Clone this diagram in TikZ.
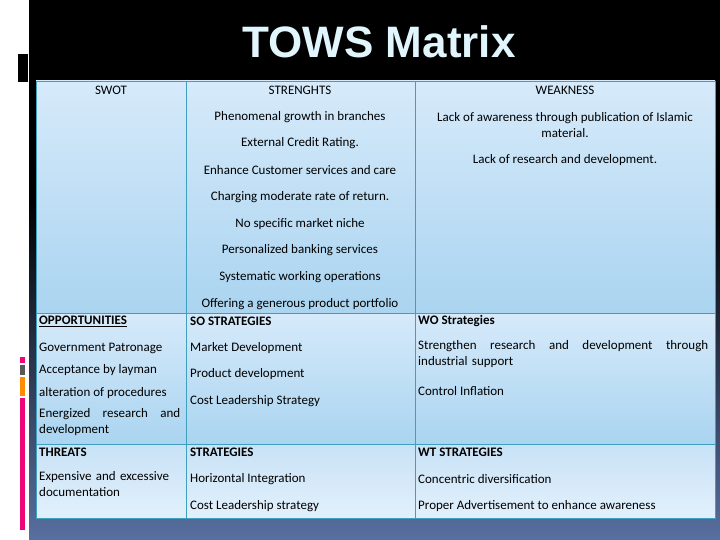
\documentclass[tikz,border=0pt]{standalone}
\usepackage{fontspec}
\setmainfont{Carlito}
\newfontfamily\titlefont{Liberation Sans}
\definecolor{celltop}{RGB}{214,234,250}
\definecolor{cellbot}{RGB}{170,212,240}
\definecolor{cellline}{RGB}{60,160,190}
\definecolor{lowtop}{RGB}{200,226,246}
\definecolor{lowbot}{RGB}{226,240,252}
\hyphenpenalty=10000
\newcommand{\spreadline}[2]{\hbox to #1{#2}}
\begin{document}
\begin{tikzpicture}[x=1pt,y=-1pt,
  t/.style={inner sep=0pt,font=\fontsize{13}{16}\selectfont,text=black},
  tl/.style={t,anchor=west},
  tb/.style={tl,font=\fontsize{13}{16}\selectfont\bfseries},
  par/.style={t,anchor=north west,align=left,text width=#1},
  cell/.style={draw=cellline,line width=0.8pt,top color=celltop,bottom color=cellbot},
  lcell/.style={cell,top color=lowtop,bottom color=lowbot}]
\useasboundingbox (0,0) rectangle (720,540);
\fill[white] (0,0) rectangle (29,540);
\fill[black] (29,0) rectangle (720,200);
\shade[top color=black,bottom color={rgb,255:red,88;green,112;blue,160}] (29,200) rectangle (720,540);
\draw[white,fill=black,line width=0.8pt] (17,53) rectangle (28,82);
\fill[magenta!80!red] (20,357) rectangle (25,363);
\fill[gray!70!black] (20,365) rectangle (25,375);
\fill[orange!90!yellow] (20,377) rectangle (25,396);
\fill[magenta!80!red] (20,398) rectangle (25,530);
\node[inner sep=0pt,text={rgb,255:red,225;green,245;blue,252},font=\titlefont\fontsize{44}{48}\selectfont\bfseries] (title) at (379,42) {TOWS Matrix};
% cells
\path[cell] (36,81) rectangle (186,313);
\path[cell] (186,81) rectangle (415,313);
\path[cell] (415,81) rectangle (715,313);
\path[cell] (36,313) rectangle (186,444);
\path[cell] (186,313) rectangle (415,444);
\path[cell] (415,313) rectangle (715,444);
\path[lcell] (36,444) rectangle (186,518);
\path[lcell] (186,444) rectangle (415,518);
\path[lcell] (415,444) rectangle (715,518);
% row 1
\node[t] (swot) at (111,90) {SWOT};
\node[t] (str) at (300,90) {STRENGHTS};
\node[t] (s1) at (300,117) {Phenomenal growth in branches};
\node[t] (s2) at (300,143) {External Credit Rating.};
\node[t] (s3) at (300,170) {Enhance Customer services and care};
\node[t] (s4) at (300,197) {Charging moderate rate of return.};
\node[t] (s5) at (300,224) {No specific market niche};
\node[t] (s6) at (300,250) {Personalized banking services};
\node[t] (s7) at (300,277) {Systematic working operations};
\node[t] (s8) at (300,304) {Offering a generous product portfolio};
\node[t] (wk) at (565,90) {WEAKNESS};
\node[t,align=center] (w1) at (565,125) {Lack of awareness through publication of Islamic\\material.};
\node[t] (w2) at (565,160) {Lack of research and development.};
% row 2
\node[tb] (opp) at (39,321) {\underline{OPPORTUNITIES}};
\node[tl] (o1) at (39,348) {Government Patronage};
\node[tl] (o2) at (39,370) {Acceptance by layman};
\node[tl] (o3) at (39,393) {alteration of procedures};
\node[par=141pt] (o4) at (39,408) {\spreadline{141pt}{Energized\hfil research\hfil and}\\development};
\node[tb] (so) at (190,321) {SO STRATEGIES};
\node[tl] (so1) at (190,348) {Market Development};
\node[tl] (so2) at (190,374) {Product development};
\node[tl] (so3) at (190,401) {Cost Leadership Strategy};
\node[tb] (wo) at (418,321) {WO Strategies};
\node[par=290pt] (wo1) at (418,340) {\spreadline{290pt}{Strengthen\hfil research\hfil and\hfil development\hfil through}\\industrial support};
\node[tl] (wo2) at (418,391) {Control Inflation};
% row 3
\node[tb] (thr) at (39,452) {THREATS};
\node[par=141pt] (t1) at (39,471) {Expensive and excessive\\documentation};
\node[tb] (st) at (190,452) {STRATEGIES};
\node[tl] (st1) at (190,479) {Horizontal Integration};
\node[tl] (st2) at (190,506) {Cost Leadership strategy};
\node[tb] (wt) at (418,452) {WT STRATEGIES};
\node[tl] (wt1) at (418,479) {Concentric diversification};
\node[tl] (wt2) at (418,506) {Proper Advertisement to enhance awareness};
\end{tikzpicture}
\end{document}
